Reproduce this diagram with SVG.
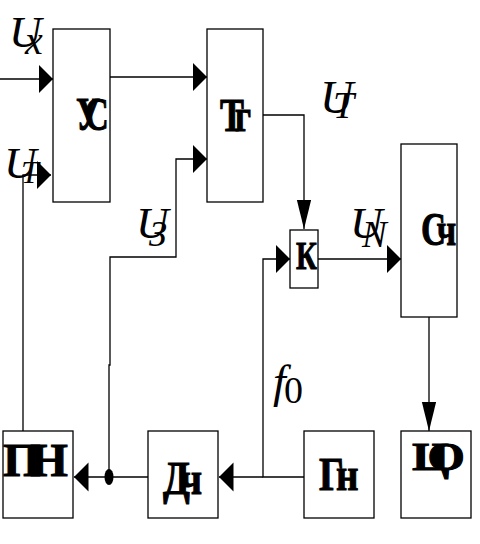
<svg xmlns="http://www.w3.org/2000/svg" width="480" height="544" viewBox="0 0 480 544">
<style>
.box{fill:#fff;stroke:#000;stroke-width:1.3}
.ln{fill:none;stroke:#000;stroke-width:1.3}
.bt{font-family:"Liberation Serif","DejaVu Serif",serif;font-weight:bold;font-size:46px;fill:#000;stroke:#000;stroke-width:1}
.lb{font-family:"Liberation Serif","DejaVu Serif",serif;font-style:italic;fill:#000}
</style>
<defs>
<marker id="mh" markerUnits="userSpaceOnUse" markerWidth="15" markerHeight="30" refX="14.5" refY="14.5" orient="auto" viewBox="0 0 15 30">
<path d="M0,0 L14.5,14.5 L0,29 z" fill="#000"/>
</marker>
<marker id="mv" markerUnits="userSpaceOnUse" markerWidth="30" markerHeight="15" refX="29.5" refY="7.25" orient="auto" viewBox="0 0 30 15">
<path d="M0,0 L29.5,7.25 L0,14.5 z" fill="#000"/>
</marker>
</defs>

<g id="connectors">
<path class="ln" d="M0,79 H53" marker-end="url(#mh)"/>
<path class="ln" d="M110,77 H207" marker-end="url(#mh)"/>
<path class="ln" d="M109,477 V365 H110 V257 H176 V159 H207" marker-end="url(#mh)"/>
<path class="ln" d="M23,431 V175 H51" marker-end="url(#mh)"/>
<path class="ln" d="M263,115 H304 V229" marker-end="url(#mv)"/>
<path class="ln" d="M318,259 H401" marker-end="url(#mh)"/>
<path class="ln" d="M304,477 H263 V259 H290" marker-end="url(#mh)"/>
<path class="ln" d="M263,477 H219" marker-end="url(#mh)"/>
<path class="ln" d="M148,477 H74" marker-end="url(#mh)"/>
<path class="ln" d="M429,317 V431" marker-end="url(#mv)"/>
<ellipse cx="109" cy="477" rx="4.5" ry="8" fill="#000"/>
</g>

<g id="US"><rect class="box" x="53" y="29" width="57" height="173"/><text class="bt" transform="translate(76,130) scale(0.72,1)"><tspan x="0">У</tspan><tspan x="12">С</tspan></text></g>
<g id="TG"><rect class="box" x="207" y="29" width="56" height="173"/><text class="bt" transform="translate(220,131) scale(0.78,1)"><tspan x="0">Т</tspan><tspan x="19">г</tspan></text></g>
<g id="K"><rect class="box" x="290" y="230" width="28" height="58"/><text class="bt" style="font-size:40px" transform="translate(296,269) scale(0.72,1)">К</text></g>
<g id="SCH"><rect class="box" x="401" y="144" width="56" height="173"/><text class="bt" transform="translate(421,245) scale(0.75,1)"><tspan x="0">С</tspan><tspan x="21">ч</tspan></text></g>
<g id="PN"><rect class="box" x="3" y="431" width="70" height="87"/><text class="bt" transform="translate(3,476) scale(1.05,1)"><tspan x="0">П</tspan><tspan x="26">Н</tspan></text></g>
<g id="DCH"><rect class="box" x="148" y="431" width="70" height="87"/><text class="bt" transform="translate(163,494) scale(0.85,1)"><tspan x="0">Д</tspan><tspan x="20">ч</tspan></text></g>
<g id="GN"><rect class="box" x="304" y="431" width="70" height="87"/><text class="bt" transform="translate(319,490) scale(0.85,1)"><tspan x="0">Г</tspan><tspan x="20">н</tspan></text></g>
<g id="CO"><rect class="box" x="401" y="431" width="70" height="87"/><text class="bt" style="font-size:40px" transform="translate(412,470) scale(1.2,1)"><tspan x="0">Ц</tspan><tspan x="13">О</tspan></text></g>

<g id="labels">
<text class="lb" x="9" y="47" style="font-size:45px">U<tspan x="25" y="54" style="font-size:40px">x</tspan></text>
<text class="lb" x="4" y="178" style="font-size:45px">U<tspan x="21" y="183" style="font-size:32px">T</tspan></text>
<text class="lb" x="136" y="238" style="font-size:45px">U<tspan x="149" y="246" style="font-size:36px">З</tspan></text>
<text class="lb" x="320" y="113" style="font-size:46px">U<tspan x="333" y="118" style="font-size:38px">T</tspan></text>
<text class="lb" x="350" y="238" style="font-size:45px">U<tspan x="362" y="247" style="font-size:37px">N</tspan></text>
<text class="lb" x="273" y="397" style="font-size:46px">f<tspan x="284" y="403" style="font-style:normal;font-size:38px">0</tspan></text>
</g>
</svg>
